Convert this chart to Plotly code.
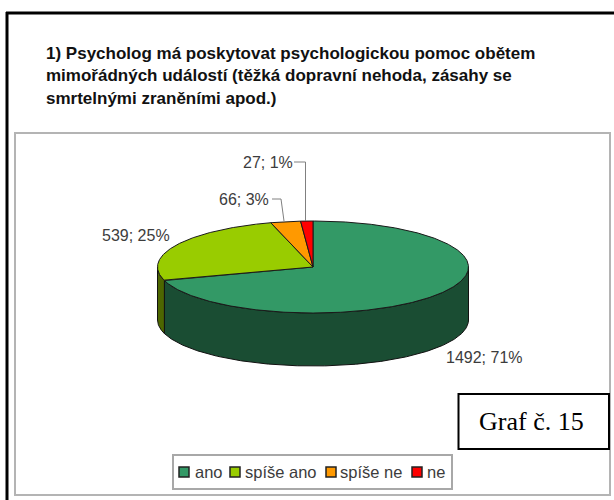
import math
import plotly.graph_objects as go

# ---- data ----
categories = ["ano", "spíše ano", "spíše ne", "ne"]
values = [1492, 539, 66, 27]
value_labels = ["1492; 71%", "539; 25%", "66; 3%", "27; 1%"]
title_lines = [
    "1) Psycholog má poskytovat psychologickou pomoc obětem",
    "mimořádných událostí (těžká dopravní nehoda, zásahy se",
    "smrtelnými zraněními apod.)",
]
badge_text = "Graf č. 15"

# ---- style ----
top_colors = ["#339966", "#99CC00", "#FF9900", "#FF0000"]
side_colors = ["#1A4D33", "#4D6600", "#804D00", "#800000"]
CX, CY, RX, RY, DEPTH = 313, 267, 155.5, 46, 53
SANS = "Liberation Sans"
SERIF = "Liberation Serif"
TEXT = "#3c3c3c"
label_pos = [(444, 357, "left"), (172, 235, "right"), (271, 199, "right"), (295, 162, "right")]
legend_icon_x = [184, 235, 331, 417]
legend_text_x = [192.5, 243, 338, 425]
LEGEND_Y = 472


def pt(deg, drop=0):
    a = math.radians(deg)
    return CX + RX * math.sin(a), CY - RY * math.cos(a) + drop


def arc(a1, a2, drop=0):
    n = max(2, int(abs(a2 - a1) * 2))
    return [pt(a1 + (a2 - a1) * i / n, drop) for i in range(n + 1)]


total = sum(values)
edges = [0]
for v in values:
    edges.append(edges[-1] + v / total * 360)

fig = go.Figure()

# side walls: only the front half of the ellipse (90 to 270 degrees) is visible
for i in range(len(values)):
    a1, a2 = max(edges[i], 90), min(edges[i + 1], 270)
    if a2 <= a1:
        continue
    poly = arc(a1, a2) + arc(a2, a1, DEPTH)
    poly.append(poly[0])
    fig.add_trace(go.Scatter(
        x=[p[0] for p in poly], y=[p[1] for p in poly], mode="lines", fill="toself",
        fillcolor=side_colors[i], line=dict(color="#111111", width=1),
        hoverinfo="skip", showlegend=False))

# top faces
for i, name in enumerate(categories):
    poly = [(CX, CY)] + arc(edges[i], edges[i + 1]) + [(CX, CY)]
    fig.add_trace(go.Scatter(
        x=[p[0] for p in poly], y=[p[1] for p in poly], mode="lines", fill="toself",
        fillcolor=top_colors[i], line=dict(color="#1a1a1a", width=1),
        name=name, text=value_labels[i], hoverinfo="name+text", showlegend=False))

# leader lines
for xs, ys in [([294, 303, 305.5, 305.5], [162, 162, 162, 221]), ([272, 281, 284], [199, 199, 221])]:
    fig.add_trace(go.Scatter(x=xs, y=ys, mode="lines", line=dict(color="#808080", width=1),
                             hoverinfo="skip", showlegend=False))

# legend swatches
for i, name in enumerate(categories):
    fig.add_trace(go.Scatter(
        x=[legend_icon_x[i]], y=[LEGEND_Y], mode="markers", name=name,
        marker=dict(symbol="square", size=10, color=top_colors[i], line=dict(color="#222222", width=1.5)),
        hoverinfo="skip", showlegend=False))

shapes = [
    dict(type="line", x0=7, x1=7, y0=12, y1=500, line=dict(color="#000000", width=3)),
    dict(type="line", x0=6, x1=614, y0=13, y1=13, line=dict(color="#000000", width=3)),
    dict(type="rect", x0=15, x1=610, y0=133, y1=495, line=dict(color="#b4b4b4", width=2), layer="below"),
    dict(type="rect", x0=173, x1=452, y0=455, y1=489, line=dict(color="#a8a8a8", width=2), layer="below"),
    dict(type="rect", x0=458.5, x1=609, y0=394, y1=449, line=dict(color="#000000", width=2), fillcolor="#ffffff"),
]

annotations = []
for (lx, ly, anchor), txt in zip(label_pos, value_labels):
    annotations.append(dict(x=lx, y=ly, text=txt, showarrow=False, xanchor=anchor, yanchor="middle",
                            font=dict(family=SANS, size=16, color=TEXT)))
for name, lx in zip(categories, legend_text_x):
    annotations.append(dict(x=lx, y=LEGEND_Y, text=name, showarrow=False, xanchor="left", yanchor="middle",
                            font=dict(family=SANS, size=16.5, color=TEXT)))
for line, ly in zip(title_lines, [53, 75, 98]):
    annotations.append(dict(x=44, y=ly, text=f"<b>{line}</b>", showarrow=False, xanchor="left", yanchor="middle",
                            font=dict(family=SANS, size=17, color="#111111")))
annotations.append(dict(x=531.5, y=421, text=badge_text, showarrow=False, xanchor="center", yanchor="middle",
                        font=dict(family=SERIF, size=26, color="#000000")))

fig.update_layout(
    width=614, height=500, autosize=False,
    margin=dict(l=0, r=0, t=0, b=0),
    paper_bgcolor="#ffffff", plot_bgcolor="#ffffff",
    showlegend=False,
    shapes=shapes, annotations=annotations,
    xaxis=dict(range=[0, 614], visible=False, fixedrange=True),
    yaxis=dict(range=[500, 0], visible=False, fixedrange=True),
)
fig.write_html("out.html", config=dict(displayModeBar=False),
               post_script="document.body.style.margin='0';")
